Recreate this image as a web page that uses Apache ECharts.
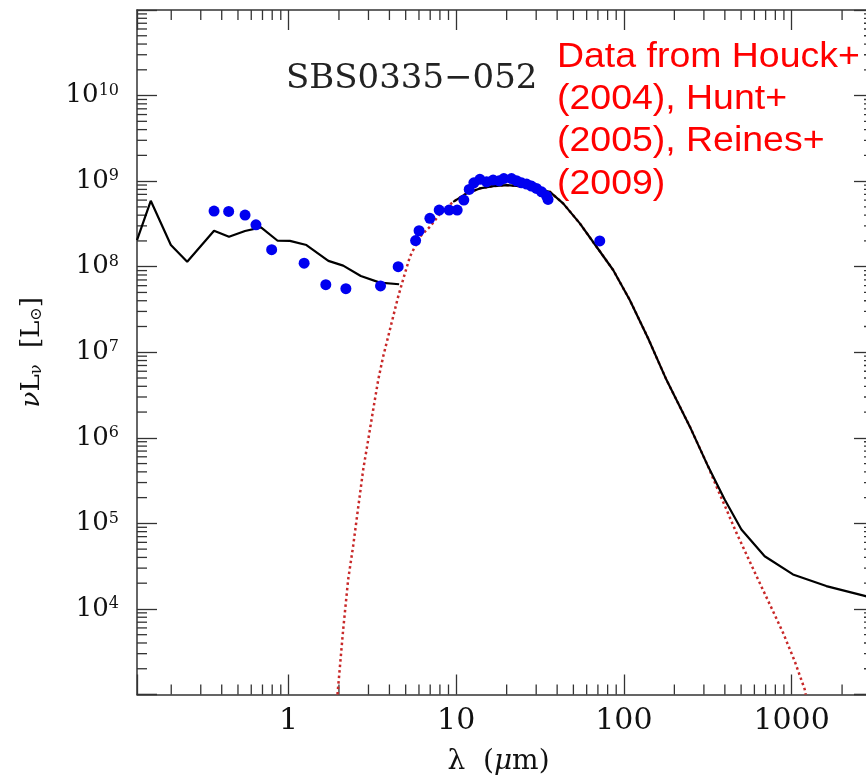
<!DOCTYPE html>
<html>
<head>
<meta charset="utf-8">
<script src="https://cdn.jsdelivr.net/npm/echarts@6/dist/echarts.min.js"></script>
<style>
html, body { margin: 0; padding: 0; background: #fff; }
#main { width: 866px; height: 778px; }
</style>
</head>
<body>
<div id="main"></div>
<script>
// model SED, stellar + nebular part (wavelength in micron, nuL_nu in Lsun)
var nirLam = [0.125, 0.151, 0.199, 0.249, 0.36, 0.442, 0.551, 0.686, 0.862, 1.02, 1.28, 1.73, 2.12, 2.70, 3.51, 4.57];
var nirLum = [2.05e8, 5.89e8, 1.79e8, 1.14e8, 2.63e8, 2.24e8, 2.61e8, 2.88e8, 2.01e8, 2.0e8, 1.79e8, 1.17e8, 1.03e8, 7.79e7, 6.51e7, 6.23e7];

// model SED, dust part
var firLam = [9.6, 11.53, 13.85, 16.61, 19.96, 23.97, 28.77, 36.2, 43.4, 54.6, 68.7, 86.3, 108.4, 139.4, 179.4, 247, 317.6, 399, 502, 691, 1019, 1611, 2765, 3100];
var firLum = [5.73e8, 7.19e8, 8.22e8, 8.75e8, 8.99e8, 8.75e8, 8.22e8, 7.5e8, 5.5e8, 3.21e8, 1.71e8, 9.15e7, 4.09e7, 1.46e7, 4.76e6, 1.36e6, 4.64e5, 1.9e5, 8.47e4, 4.13e4, 2.53e4, 1.85e4, 1.41e4, 1.33e4];

// dotted fit
var fitLam = [1.96, 2.12, 2.27, 2.43, 2.61, 2.79, 2.99, 3.20, 3.43, 3.67, 3.93, 4.21, 4.51, 4.95, 5.30, 6.08, 6.97, 8.19, 9.6, 11.53, 13.85, 16.61, 19.96, 23.97, 28.77, 36.2, 43.4, 54.6, 68.7, 86.3, 108.4, 139.4, 179.4, 247, 317.6, 356, 409, 469, 550, 645, 758, 889, 1043, 1197, 1213];
var fitLum = [1.0e3, 5.77e3, 2.21e4, 5.41e4, 1.58e5, 4.25e5, 9.51e5, 2.13e6, 4.76e6, 8.91e6, 1.52e7, 2.61e7, 4.47e7, 8.38e7, 1.31e8, 2.24e8, 2.93e8, 4.38e8, 5.73e8, 7.19e8, 8.22e8, 8.75e8, 8.99e8, 8.75e8, 8.22e8, 7.5e8, 5.5e8, 3.21e8, 1.71e8, 9.15e7, 4.09e7, 1.46e7, 4.76e6, 1.36e6, 4.64e5, 2.71e5, 1.45e5, 7.74e4, 3.95e4, 2.02e4, 1.03e4, 5.27e3, 2.46e3, 1.15e3, 1.0e3];

// observed photometry
var obsLam = [0.36, 0.44, 0.551, 0.64, 0.794, 1.24, 1.67, 2.20, 3.54, 4.51, 5.73, 6.01, 6.97, 7.92, 9.08, 10.14, 11.11, 11.96, 12.75, 13.85, 15.18, 16.61, 18.04, 19.24, 21.38, 22.9, 24.5, 26.3, 28.1, 30.1, 32.3, 34.6, 35.3, 71.8];
var obsLum = [4.47e8, 4.43e8, 4.01e8, 3.09e8, 1.58e8, 1.10e8, 6.17e7, 5.53e7, 5.96e7, 1.0e8, 2.02e8, 2.63e8, 3.67e8, 4.59e8, 4.59e8, 4.59e8, 6.0e8, 8.0e8, 9.55e8, 1.05e9, 9.82e8, 1.03e9, 1.01e9, 1.07e9, 1.07e9, 1.01e9, 9.55e8, 9.23e8, 8.75e8, 8.22e8, 7.5e8, 6.68e8, 6.11e8, 2.0e8];

var xMin = 0.125, xMax = 3100;
var yMin = 1e3, yMax = 1e11;

function zip(a, b) {
    return a.map(function (v, i) { return [v, b[i]]; });
}

// minor tick positions (2..9 per decade)
var minorData = [];
for (var e = -1; e <= 3; e++) {
    for (var m = 2; m <= 9; m++) {
        var v = m * Math.pow(10, e);
        if (v > xMin && v < xMax) minorData.push([v, 1e5, 0]);
    }
}
for (var e2 = 3; e2 <= 10; e2++) {
    for (var m2 = 2; m2 <= 9; m2++) {
        minorData.push([1, m2 * Math.pow(10, e2), 1]);
    }
}

function isDecade(v) {
    var l = Math.log10(v);
    return Math.abs(l - Math.round(l)) < 1e-6;
}

var axisCol = '#333';
var serif = '"DejaVu Serif", "DejaVu Sans", serif';

function xAxisCfg(pos, labels) {
    return {
        type: 'log', logBase: 10, min: xMin, max: xMax, position: pos, splitNumber: 5,
        axisLine: { onZero: false, lineStyle: { color: axisCol, width: 1.5 } },
        axisTick: { inside: true, length: 20, lineStyle: { color: axisCol, width: 1.3 } },
        splitLine: { show: false },
        axisLabel: {
            show: labels, margin: 12, fontFamily: serif, fontSize: 30, color: '#111',
            formatter: function (v) { return isDecade(v) ? String(Math.round(v)) : ''; }
        }
    };
}

function yAxisCfg(pos, labels) {
    return {
        type: 'log', logBase: 10, min: yMin, max: yMax, position: pos, splitNumber: 8,
        axisLine: { onZero: false, lineStyle: { color: axisCol, width: 1.5 } },
        axisTick: { inside: true, length: 20, lineStyle: { color: axisCol, width: 1.3 } },
        splitLine: { show: false },
        axisLabel: {
            show: labels, margin: 18,
            formatter: function (v) {
                if (!isDecade(v) || v <= yMin * 1.001 || v >= yMax / 1.001) return '';
                return '{b|10}{s|' + Math.round(Math.log10(v)) + '}';
            },
            rich: {
                b: { fontFamily: serif, fontSize: 26, color: '#111' },
                s: { fontFamily: serif, fontSize: 16, color: '#111', verticalAlign: 'top' }
            }
        }
    };
}

var xBottom = xAxisCfg('bottom', true);
xBottom.name = '{n|λ  (}{i|μ}{n|m)}';
xBottom.nameLocation = 'middle';
xBottom.nameGap = 53;
xBottom.nameMoveOverlap = false;
xBottom.nameTextStyle = {
    padding: [0, 14, 0, 0],
    rich: {
        n: { fontFamily: serif, fontSize: 28, color: '#111' },
        i: { fontFamily: serif, fontStyle: 'italic', fontSize: 28, color: '#111' }
    }
};

var yLeft = yAxisCfg('left', true);
yLeft.name = '{i|ν}{n|L}{sub|ν}{n|  [L}{sub|⊙}{n|]}';
yLeft.nameLocation = 'middle';
yLeft.nameRotate = 90;
yLeft.nameGap = 92;
yLeft.nameMoveOverlap = false;
yLeft.nameTextStyle = {
    rich: {
        n: { fontFamily: serif, fontSize: 26, color: '#111' },
        i: { fontFamily: serif, fontStyle: 'italic', fontSize: 26, color: '#111' },
        sub: { fontFamily: serif, fontSize: 16, color: '#111', verticalAlign: 'bottom' }
    }
};

var chart = echarts.init(document.getElementById('main'), null, { renderer: 'canvas' });
chart.setOption({
    animation: false,
    backgroundColor: '#fff',
    grid: { left: 137, right: -8, top: 10, bottom: 83.5, containLabel: false, outerBoundsMode: 'none' },
    xAxis: [xBottom, xAxisCfg('top', false)],
    yAxis: [yLeft, yAxisCfg('right', false)],
    graphic: [
        {
            type: 'text', x: 286, y: 79.5,
            style: { text: 'SBS0335\u2212052', font: '34px "DejaVu Serif"', fill: '#222', verticalAlign: 'middle' }
        },
        {
            type: 'text', x: 557, y: 36, scaleX: 1.07,
            style: {
                text: 'Data from Houck+\n(2004), Hunt+\n(2005), Reines+\n(2009)',
                font: '35px "Liberation Sans"', lineHeight: 42.3, fill: '#ff0000', verticalAlign: 'top'
            }
        }
    ],
    series: [
        {
            type: 'custom', name: 'minor ticks', silent: true, z: 1,
            data: minorData,
            encode: { x: 0, y: 1 },
            renderItem: function (params, api) {
                var cs = params.coordSys;
                var st = { stroke: axisCol, lineWidth: 1.3 };
                var p = api.coord([api.value(0), api.value(1)]);
                if (api.value(2) === 0) {
                    var b = cs.y + cs.height;
                    return { type: 'group', children: [
                        { type: 'line', shape: { x1: p[0], y1: b, x2: p[0], y2: b - 10 }, style: st },
                        { type: 'line', shape: { x1: p[0], y1: cs.y, x2: p[0], y2: cs.y + 10 }, style: st }
                    ] };
                }
                var r = cs.x + cs.width;
                return { type: 'group', children: [
                    { type: 'line', shape: { x1: cs.x, y1: p[1], x2: cs.x + 10, y2: p[1] }, style: st },
                    { type: 'line', shape: { x1: r, y1: p[1], x2: r - 10, y2: p[1] }, style: st }
                ] };
            }
        },
        {
            type: 'line', name: 'fit', data: zip(fitLam, fitLum), showSymbol: false, z: 2,
            lineStyle: { color: '#c82828', width: 2.5, type: [2.5, 3] }
        },
        {
            type: 'line', name: 'model nir', data: zip(nirLam, nirLum), showSymbol: false, z: 3,
            lineStyle: { color: '#000', width: 2.2 }
        },
        {
            type: 'line', name: 'model fir', data: zip(firLam, firLum), showSymbol: false, z: 3,
            lineStyle: { color: '#000', width: 2.2 }
        },
        {
            type: 'scatter', name: 'data', data: zip(obsLam, obsLum), symbolSize: 11, z: 4,
            itemStyle: { color: '#0000f0', opacity: 1 }
        }
    ]
});
</script>
</body>
</html>
